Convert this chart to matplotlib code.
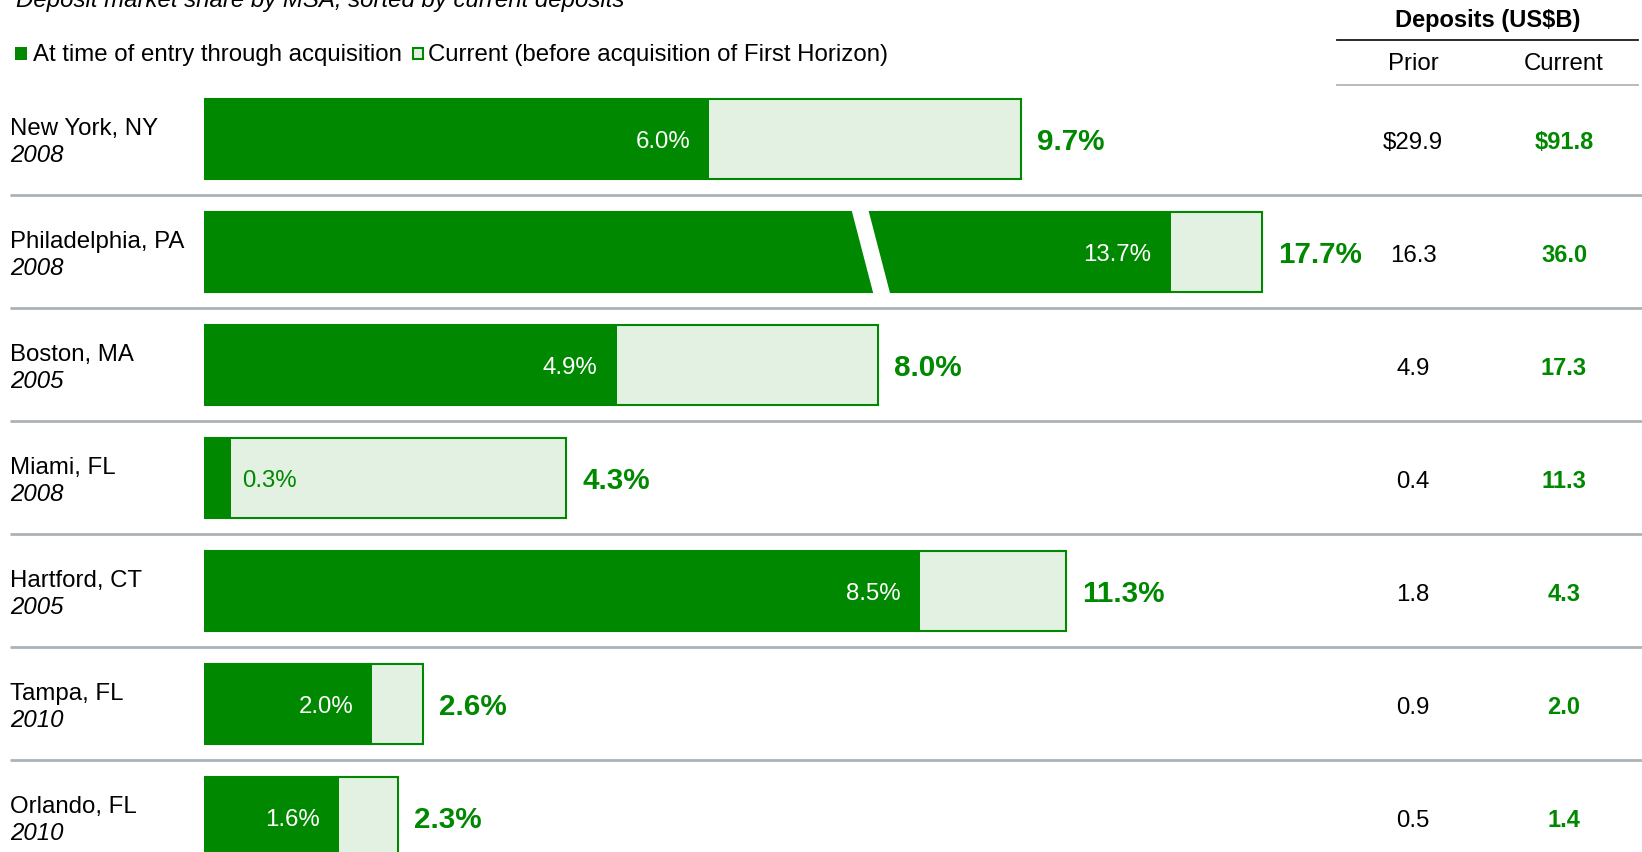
import matplotlib
matplotlib.use("Agg")
import matplotlib.pyplot as plt
from matplotlib.patches import Rectangle, Polygon
from matplotlib.lines import Line2D
from matplotlib.transforms import blended_transform_factory

plt.rcParams['font.family'] = ['Liberation Sans', 'DejaVu Sans']

cities = ['New York, NY', 'Philadelphia, PA', 'Boston, MA', 'Miami, FL',
          'Hartford, CT', 'Tampa, FL', 'Orlando, FL']
entry_years = ['2008', '2008', '2005', '2008', '2005', '2010', '2010']
share_entry = [6.0, 13.7, 4.9, 0.3, 8.5, 2.0, 1.6]
share_current = [9.7, 17.7, 8.0, 4.3, 11.3, 2.6, 2.3]
# lengths as the original draws them (Philadelphia is a broken bar,
# Hartford is drawn shorter than its label)
bar_entry = [6.0, 11.48, 4.9, 0.32, 8.5, 2.0, 1.6]
bar_current = [9.7, 12.57, 8.0, 4.3, 10.24, 2.6, 2.3]
deposits_prior = ['$29.9', '16.3', '4.9', '0.4', '1.8', '0.9', '0.5']
deposits_current = ['$91.8', '36.0', '17.3', '11.3', '4.3', '2.0', '1.4']
broken_row = 1
break_at = 7.9

GREEN = '#008800'
LIGHT = '#e3f1e3'
GREY = '#adb2b8'
FS = 17.3

W, H = 1642, 852
PX_PER_PCT = 84.2
ROW_PX = 113
ROW0_PX = 138.85
BAR_LEFT = 204

fig = plt.figure(figsize=(W / 100, H / 100), dpi=100)
ax = fig.add_axes([BAR_LEFT / W, 0, 1 - BAR_LEFT / W, 1])
ax.set_xlim(0, (W - BAR_LEFT) / PX_PER_PCT)
ax.set_ylim((H - ROW0_PX) / ROW_PX, -ROW0_PX / ROW_PX)
ax.axis('off')

rows = list(range(len(cities)))
bar_h = 79.5 / ROW_PX
dy = 3 / ROW_PX  # small nudge so digits sit on the bar centre

ax.barh(rows, bar_current, height=bar_h, color=LIGHT, edgecolor=GREEN,
        linewidth=1.5, zorder=2)
ax.barh(rows, bar_entry, height=bar_h, color=GREEN, linewidth=0, zorder=3)

# break mark on the Philadelphia bar
top = broken_row - bar_h / 2 - 0.02
bot = broken_row + bar_h / 2 + 0.02
ax.add_patch(Polygon([(break_at - 0.21, top), (break_at - 0.01, top),
                      (break_at + 0.25, bot), (break_at + 0.05, bot)],
                     closed=True, color='white', zorder=4, linewidth=0))

# separators
x_left = (10 - BAR_LEFT) / PX_PER_PCT
x_right = (W - BAR_LEFT) / PX_PER_PCT
for k in rows[:-1]:
    ax.plot([x_left, x_right], [k + 0.5, k + 0.5], color=GREY, lw=2.0,
            clip_on=False, zorder=1, solid_capstyle='butt')

for k in rows:
    ax.text(bar_current[k] + 16 / PX_PER_PCT, k + dy, f'{share_current[k]:.1f}%',
            ha='left', va='center', color=GREEN, fontsize=21.3, fontweight='bold',
            zorder=5)
    if bar_entry[k] > 1:
        ax.text(bar_entry[k] - 19 / PX_PER_PCT, k + dy, f'{share_entry[k]:.1f}%',
                ha='right', va='center', color='white', fontsize=FS, zorder=5)
    else:
        ax.text(bar_entry[k] + 11 / PX_PER_PCT, k + dy, f'{share_entry[k]:.1f}%',
                ha='left', va='center', color=GREEN, fontsize=FS, zorder=5)

tr = blended_transform_factory(fig.transFigure, ax.transData)
for k in rows:
    ax.text(10 / W, k - 3.85 / ROW_PX, cities[k], transform=tr, ha='left',
            va='baseline', fontsize=FS, color='black')
    ax.text(10 / W, k + 22.85 / ROW_PX, entry_years[k], transform=tr, ha='left',
            va='baseline', fontsize=FS, style='italic', color='black')
    ax.text(1413 / W, k + 1.3 * dy, deposits_prior[k], transform=tr, ha='center',
            va='center', fontsize=FS, color='black')
    ax.text(1564 / W, k + 1.3 * dy, deposits_current[k], transform=tr, ha='center',
            va='center', fontsize=17, fontweight='bold', color=GREEN)

# table header
fig.text(1488 / W, 1 - 21 / H, 'Deposits (US$B)', ha='center', va='center',
         fontsize=17, fontweight='bold')
fig.add_artist(Line2D([1337 / W, 1638 / W], [1 - 40 / H] * 2, color='#1a1a1a', lw=1.3))
fig.text(1413 / W, 1 - 64 / H, 'Prior', ha='center', va='center', fontsize=FS)
fig.text(1564 / W, 1 - 64 / H, 'Current', ha='center', va='center', fontsize=FS)
fig.add_artist(Line2D([1337 / W, 1638 / W], [1 - 85 / H] * 2, color='#b4b4b4', lw=1.3))

# title (cut off at the top in the original)
fig.text(15.7 / W, 1 - 7.5 / H, 'Deposit market share by MSA, sorted by current deposits',
         ha='left', va='baseline', fontsize=FS, style='italic')

# legend
fig.add_artist(Rectangle((14.7 / W, 1 - 60 / H), 12.3 / W, 13 / H,
                         transform=fig.transFigure, color=GREEN, linewidth=0))
fig.text(32.5 / W, 1 - 54.5 / H, 'At time of entry through acquisition',
         ha='left', va='center', fontsize=FS)
fig.add_artist(Rectangle((412.5 / W, 1 - 59 / H), 10.5 / W, 11 / H,
                         transform=fig.transFigure, facecolor=LIGHT,
                         edgecolor=GREEN, linewidth=1.5))
fig.text(428 / W, 1 - 54.5 / H, 'Current (before acquisition of First Horizon)',
         ha='left', va='center', fontsize=FS)

fig.savefig('out.png', dpi=100, facecolor='white')
